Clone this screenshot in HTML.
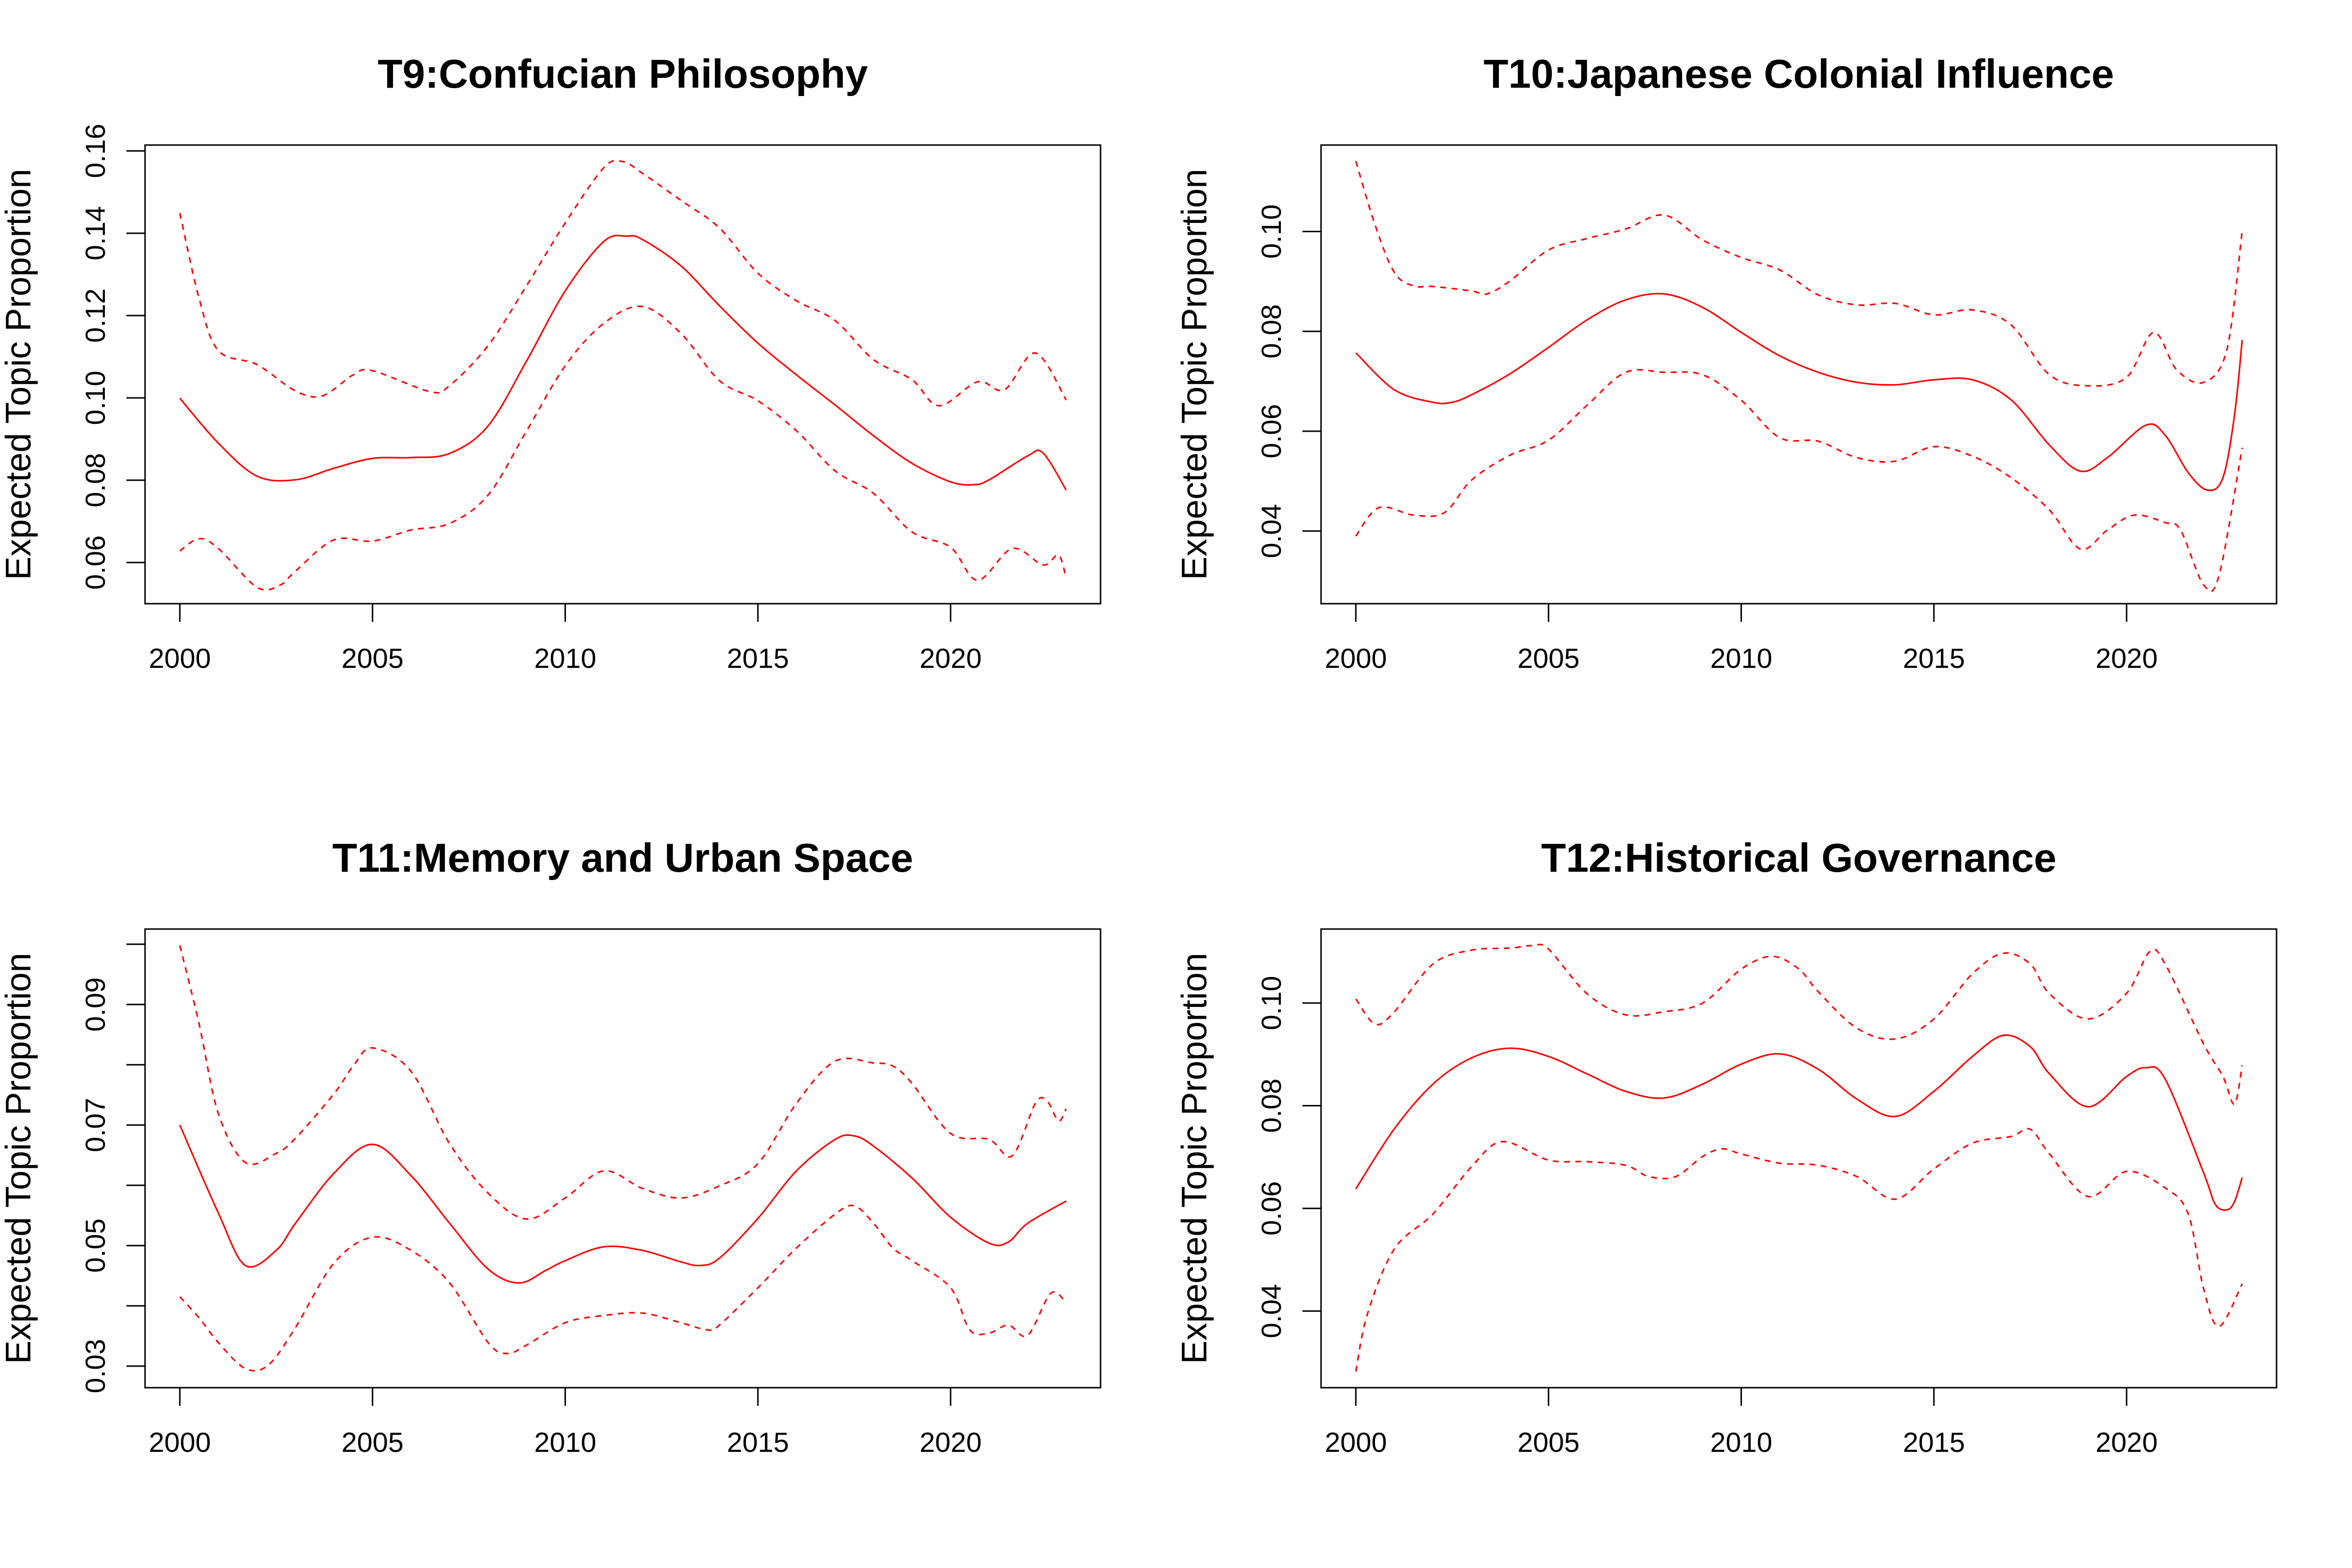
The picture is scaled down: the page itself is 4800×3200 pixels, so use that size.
<!DOCTYPE html>
<html><head><meta charset="utf-8"><style>
html,body{margin:0;padding:0;background:#fff;}
svg{display:block;}
text{font-family:"Liberation Sans",Arial,sans-serif;fill:#000;}
</style></head><body>
<svg id="chart" width="4800" height="3200" viewBox="0 0 4800 3200" xmlns="http://www.w3.org/2000/svg"></svg>
<script>
// ---- T9 data ----
const t9Title = "T9:Confucian Philosophy";
const t9Ticks = [0.06,0.08,0.10,0.12,0.14,0.16];
const t9TickLabels = ["0.06","0.08","0.10","0.12","0.14","0.16"];
const t9MeanX = [2000,2001,2002,2003,2004,2005,2006,2007,2008,2009,2010,2011,2011.6,2012,2013,2014,2015,2016,2017,2018,2019,2020,2020.6,2021,2022,2022.4,2023];
const t9Mean = [0.0999,0.0890,0.0810,0.0801,0.0829,0.0853,0.0855,0.0865,0.0932,0.1090,0.1260,0.1380,0.1393,0.1385,0.1321,0.1224,0.1133,0.1056,0.0983,0.0908,0.0841,0.0796,0.0789,0.0801,0.0859,0.0866,0.0776];
const t9UpX = [2000,2000.5,2001,2002,2003,2003.7,2004.5,2005,2006.5,2007,2008,2009,2010,2011,2011.5,2012,2013,2014,2015,2016,2017,2018,2019,2019.7,2020.7,2021.4,2022.2,2023];
const t9Up = [0.1449,0.1242,0.1115,0.1081,0.1017,0.1005,0.1056,0.1066,0.1015,0.1030,0.1127,0.1273,0.1425,0.1559,0.1574,0.1546,0.1480,0.1413,0.1303,0.1236,0.1188,0.1093,0.1044,0.0981,0.1039,0.1020,0.1109,0.0995];
const t9LoX = [2000,2000.5,2001,2002,2002.6,2003,2004,2005,2006,2007,2008,2009,2010,2011,2012,2013,2014,2015,2016,2017,2018,2019,2020,2020.7,2021.6,2022.4,2022.8,2023];
const t9Lo = [0.0628,0.0658,0.0634,0.0540,0.0545,0.0579,0.0655,0.0652,0.0679,0.0695,0.0764,0.0920,0.1078,0.1181,0.1222,0.1157,0.1042,0.0993,0.0920,0.0823,0.0768,0.0674,0.0637,0.0557,0.0634,0.0594,0.0618,0.0561];

// ---- T10 data ----
const t10Title = "T10:Japanese Colonial Influence";
const t10Ticks = [0.04,0.06,0.08,0.10];
const t10TickLabels = ["0.04","0.06","0.08","0.10"];
const t10MeanX = [2000,2001,2002,2002.5,2003,2004,2005,2006,2007,2008,2009,2010,2011,2012,2013,2014,2015,2016,2017,2018,2018.8,2019.5,2020.5,2021,2021.6,2022.1,2022.5,2022.8,2023];
const t10Mean = [0.0757,0.0683,0.0658,0.0658,0.0673,0.0715,0.0768,0.0823,0.0863,0.0875,0.0848,0.0798,0.0751,0.0718,0.0698,0.0693,0.0703,0.0703,0.0663,0.0572,0.0520,0.0547,0.0612,0.0592,0.0517,0.0482,0.0507,0.0632,0.0783];
const t10UpX = [2000,2000.5,2001,2001.5,2002,2003,2003.4,2004,2005,2006,2007,2008,2009,2010,2011,2012,2013,2014,2015,2016,2017,2018,2019,2020,2020.7,2021.3,2022,2022.6,2023];
const t10Up = [0.1141,0.1013,0.0918,0.0891,0.0890,0.0881,0.0875,0.0901,0.0963,0.0986,0.1005,0.1033,0.0983,0.0948,0.0923,0.0873,0.0853,0.0856,0.0833,0.0843,0.0813,0.0713,0.0691,0.0708,0.0798,0.0723,0.0698,0.0763,0.1001];
const t10LoX = [2000,2000.6,2001.5,2002.3,2003,2004,2005,2006,2007,2008,2009,2010,2011,2012,2013,2014,2015,2016,2017,2018,2018.8,2019.5,2020.2,2021,2021.4,2022,2022.4,2023];
const t10Lo = [0.0390,0.0447,0.0432,0.0437,0.0502,0.0552,0.0582,0.0652,0.0718,0.0718,0.0713,0.0662,0.0587,0.0580,0.0547,0.0540,0.0569,0.0550,0.0507,0.0442,0.0364,0.0402,0.0432,0.0417,0.0402,0.0292,0.0312,0.0567];

// ---- T11 data ----
const t11Title = "T11:Memory and Urban Space";
const t11Ticks = [0.03,0.04,0.05,0.06,0.07,0.08,0.09,0.10];
const t11TickLabels = ["0.03","","0.05","","0.07","","0.09",""];
const t11MeanX = [2000,2001,2001.7,2002.5,2003,2004,2005,2006,2007,2008,2008.8,2009.5,2010,2011,2012,2013,2013.5,2014,2015,2016,2017,2017.5,2018,2019,2020,2021,2021.5,2022,2023];
const t11Mean = [0.0700,0.0554,0.0467,0.0492,0.0537,0.0620,0.0668,0.0616,0.0537,0.0461,0.0438,0.0459,0.0475,0.0498,0.0492,0.0473,0.0467,0.0479,0.0545,0.0624,0.0676,0.0682,0.0665,0.0612,0.0547,0.0504,0.0506,0.0537,0.0574];
const t11UpX = [2000,2000.5,2001,2001.7,2002.5,2003,2004,2004.5,2005,2006,2007,2008,2009,2010,2011,2012,2013,2014,2015,2016,2017,2018,2018.5,2019,2020,2021,2021.6,2022.2,2022.5,2022.8,2023];
const t11Up = [0.0998,0.0868,0.0719,0.0638,0.0653,0.0678,0.0752,0.0798,0.0828,0.0789,0.0669,0.0587,0.0544,0.0579,0.0624,0.0595,0.0579,0.0599,0.0636,0.0736,0.0806,0.0803,0.0798,0.0769,0.0686,0.0676,0.0649,0.0736,0.0740,0.0707,0.0727];
const t11LoX = [2000,2000.5,2001,2001.7,2002.3,2003,2004,2005,2006,2007,2008,2008.5,2009,2010,2011,2012,2013,2013.7,2014,2015,2016,2017,2017.5,2018,2018.5,2019,2020,2020.5,2021,2021.5,2022,2022.6,2023];
const t11Lo = [0.0415,0.0380,0.0339,0.0296,0.0302,0.0364,0.0471,0.0514,0.0492,0.0438,0.0339,0.0321,0.0335,0.0372,0.0384,0.0388,0.0372,0.0360,0.0368,0.0430,0.0496,0.0552,0.0566,0.0537,0.0496,0.0475,0.0430,0.0360,0.0355,0.0368,0.0351,0.0421,0.0405];

// ---- T12 data ----
const t12Title = "T12:Historical Governance";
const t12Ticks = [0.04,0.06,0.08,0.10];
const t12TickLabels = ["0.04","0.06","0.08","0.10"];
const t12MeanX = [2000,2001,2002,2003,2004,2005,2006,2007,2008,2009,2010,2011,2012,2013,2014,2015,2016,2016.8,2017.5,2018,2019,2020,2020.5,2021,2022,2022.3,2022.6,2022.8,2023];
const t12Mean = [0.0638,0.0755,0.0842,0.0893,0.0912,0.0896,0.0862,0.0828,0.0815,0.0842,0.0881,0.0901,0.0871,0.0813,0.0779,0.0828,0.0896,0.0937,0.0915,0.0862,0.0798,0.0857,0.0874,0.0852,0.0669,0.0608,0.0597,0.0613,0.0660];
const t12UpX = [2000,2000.5,2001,2002,2003,2004,2004.6,2005,2006,2007,2008,2009,2010,2010.8,2011.5,2012,2013,2014,2015,2016,2016.8,2017.5,2018,2019,2020,2020.6,2021,2022,2022.5,2022.8,2023];
const t12Up = [0.1008,0.0959,0.0983,0.1076,0.1103,0.1107,0.1112,0.1105,0.1018,0.0977,0.0983,0.1000,0.1066,0.1091,0.1066,0.1022,0.0951,0.0930,0.0969,0.1057,0.1097,0.1076,0.1018,0.0969,0.1019,0.1100,0.1076,0.0920,0.0857,0.0803,0.0879];
const t12LoX = [2000,2000.3,2001,2002,2003,2003.8,2005,2006,2007,2007.6,2008.3,2009,2009.5,2010,2011,2012,2013,2014,2015,2016,2017,2017.5,2018,2019,2020,2021,2021.6,2022,2022.4,2023];
const t12Lo = [0.0282,0.0394,0.0521,0.0589,0.0681,0.0730,0.0694,0.0691,0.0684,0.0662,0.0662,0.0701,0.0716,0.0706,0.0688,0.0684,0.0662,0.0618,0.0677,0.0727,0.0740,0.0754,0.0706,0.0623,0.0672,0.0640,0.0589,0.0443,0.0370,0.0453];

const xTicks = [2000,2005,2010,2015,2020];

const NS = "http://www.w3.org/2000/svg";
const svg = document.getElementById("chart");
function mk(tag, attrs, parent){
  const e = document.createElementNS(NS, tag);
  for (const k in attrs) e.setAttribute(k, attrs[k]);
  parent.appendChild(e);
  return e;
}
function smoothPath(pts){
  let d = "M" + pts[0][0].toFixed(1) + "," + pts[0][1].toFixed(1);
  for (let i = 0; i < pts.length - 1; i++){
    const p0 = pts[Math.max(0,i-1)], p1 = pts[i], p2 = pts[i+1], p3 = pts[Math.min(pts.length-1,i+2)];
    const c1x = p1[0] + (p2[0]-p0[0])/6, c1y = p1[1] + (p2[1]-p0[1])/6;
    const c2x = p2[0] - (p3[0]-p1[0])/6, c2y = p2[1] - (p3[1]-p1[1])/6;
    d += " C" + c1x.toFixed(1) + "," + c1y.toFixed(1) + " " + c2x.toFixed(1) + "," + c2y.toFixed(1) + " " + p2[0].toFixed(1) + "," + p2[1].toFixed(1);
  }
  return d;
}

function panel(ox, oy, key, title, ticks, tickLabels, ref, meanX, mean, upX, up, loX, lo){
  // ref: [v1, y1, v2, y2] pixel calibration of the y axis within the panel
  const g = mk("g", {transform: "translate(" + ox + "," + oy + ")"}, svg);
  
  
  const L = 296, R = 2246, T = 296, B = 1232;
  const xs = yr => 367 + (yr - 2000) * 78.65;
  const ys = v => ref[1] + (v - ref[0]) * (ref[3] - ref[1]) / (ref[2] - ref[0]);

  const t = mk("text", {x: (L+R)/2, y: 179, "text-anchor": "middle", "font-size": 83, "font-weight": "bold"}, g);
  t.textContent = title;
  
  

  const box = mk("rect", {x: L, y: T, width: R-L, height: B-T, fill: "none", stroke: "#000", "stroke-width": 3}, g);
  
  

  // x axis
  const xa = mk("g", {}, g);
  
  
  xTicks.forEach(yr => {
    const tk = mk("line", {x1: xs(yr), x2: xs(yr), y1: B, y2: 1269, stroke: "#000", "stroke-width": 3}, xa);
    
    
    const lb = mk("text", {x: xs(yr), y: 1363, "text-anchor": "middle", "font-size": 57}, xa);
    lb.textContent = String(yr);
    
    
  });

  // y axis
  const ya = mk("g", {}, g);
  
  
  ticks.forEach((v, i) => {
    const y = ys(v);
    const tk = mk("line", {x1: 258, x2: L, y1: y, y2: y, stroke: "#000", "stroke-width": 3}, ya);
    
    
    if (tickLabels[i]) {
      const lb = mk("text", {x: 0, y: 0, "text-anchor": "middle", "font-size": 57, transform: "translate(214," + y.toFixed(1) + ") rotate(-90)"}, ya);
      lb.textContent = tickLabels[i];
      
      
    }
  });
  const yl = mk("line", {x1: L, x2: L, y1: ys(ticks[0]), y2: ys(ticks[ticks.length-1]), stroke: "#000", "stroke-width": 3}, ya);
  
  
  const yt = mk("text", {x: 0, y: 0, "text-anchor": "middle", "font-size": 72, transform: "translate(62,764) rotate(-90)"}, g);
  yt.textContent = "Expected Topic Proportion";
  
  

  const series = [[upX, up, "upper-ci", true], [loX, lo, "lower-ci", true], [meanX, mean, "mean", false]];
  series.forEach(s => {
    const pts = s[0].map((yr, i) => [xs(yr), ys(s[1][i])]);
    const attrs = {d: smoothPath(pts), fill: "none", stroke: "#ff0000", "stroke-width": 3.2, "stroke-linejoin": "round"};
    if (s[3]) attrs["stroke-dasharray"] = "12 11";
    const p = mk("path", attrs, g);
    
    
  });
}

panel(0, 0, "t9", t9Title, t9Ticks, t9TickLabels, [0.16, 308, 0.06, 1148], t9MeanX, t9Mean, t9UpX, t9Up, t9LoX, t9Lo);
panel(2400, 0, "t10", t10Title, t10Ticks, t10TickLabels, [0.10, 472.5, 0.04, 1083.8], t10MeanX, t10Mean, t10UpX, t10Up, t10LoX, t10Lo);
panel(0, 1600, "t11", t11Title, t11Ticks, t11TickLabels, [0.09, 450, 0.03, 1188], t11MeanX, t11Mean, t11UpX, t11Up, t11LoX, t11Lo);
panel(2400, 1600, "t12", t12Title, t12Ticks, t12TickLabels, [0.10, 447, 0.04, 1075.6], t12MeanX, t12Mean, t12UpX, t12Up, t12LoX, t12Lo);
</script>
</body></html>
